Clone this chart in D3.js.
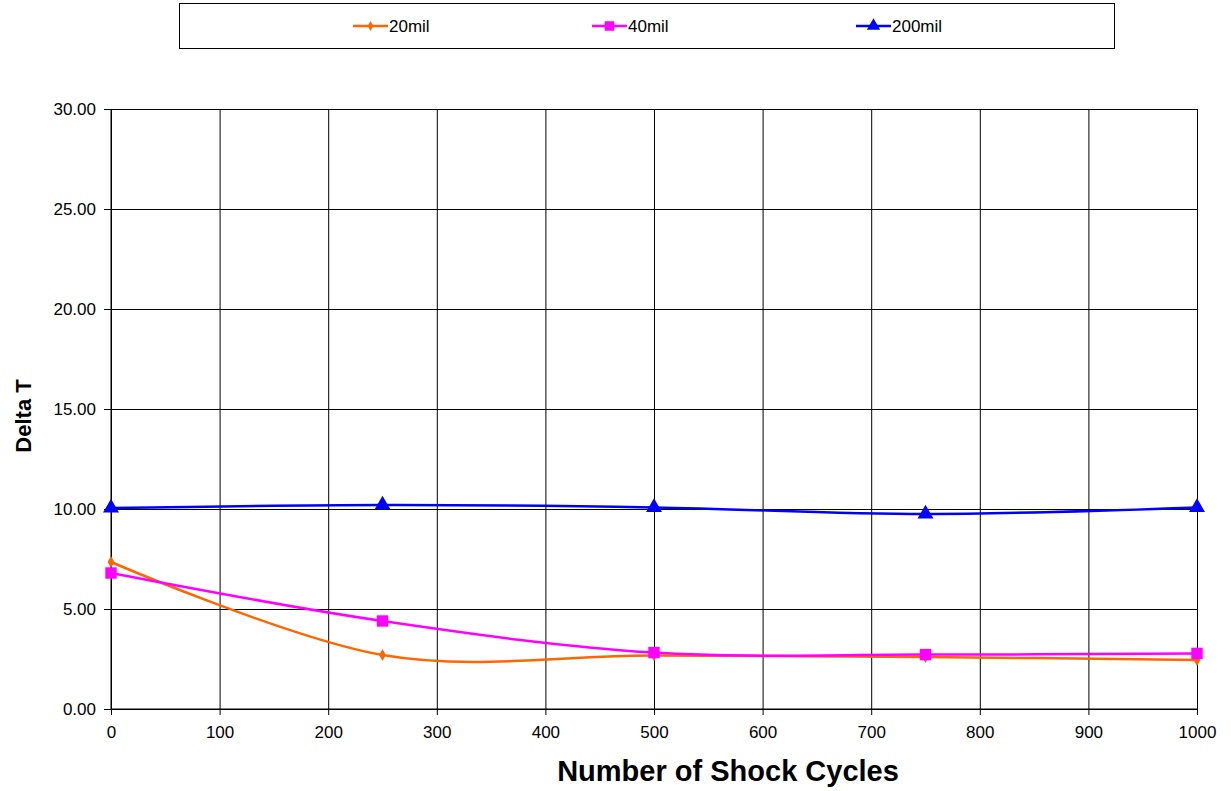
<!DOCTYPE html>
<html>
<head>
<meta charset="utf-8">
<script src="https://cdn.jsdelivr.net/npm/d3@7"></script>
<style>
  body { margin: 0; background: #fff; }
  text { font-family: "Liberation Sans", Arial, sans-serif; }
</style>
</head>
<body>
<div id="chart"></div>
<script>
var width = 1231;
var height = 791;

// data
var cycles = [0, 250, 500, 750, 1000];
var mil20 = [7.35, 2.70, 2.68, 2.60, 2.45];
var mil40 = [6.80, 4.40, 2.82, 2.72, 2.78];
var mil200 = [10.05, 10.20, 10.08, 9.75, 10.08];
var seriesNames = ['20mil', '40mil', '200mil'];
var xTicks = [0, 100, 200, 300, 400, 500, 600, 700, 800, 900, 1000];
var yTicks = [0, 5, 10, 15, 20, 25, 30];

var plotLeft = 111, plotRight = 1197, plotTop = 109, plotBottom = 709;

var svg = d3.select('#chart')
  .append('svg')
  .attr('width', width)
  .attr('height', height)
  .style('background-color', '#fff');

var x = d3.scaleLinear().domain([0, 1000]).range([plotLeft, plotRight]);
var y = d3.scaleLinear().domain([0, 30]).range([plotBottom, plotTop]);

// grid
svg.append('g')
  .attr('transform', 'translate(0,' + plotBottom + ')')
  .call(d3.axisBottom(x).tickValues(xTicks).tickSize(-(plotBottom - plotTop)).tickFormat(''))
  .call(function(g) { g.select('.domain').remove(); })
  .selectAll('line').attr('stroke', '#000').attr('stroke-width', 1);

svg.append('g')
  .attr('transform', 'translate(' + plotLeft + ',0)')
  .call(d3.axisLeft(y).tickValues(yTicks).tickSize(-(plotRight - plotLeft)).tickFormat(''))
  .call(function(g) { g.select('.domain').remove(); })
  .selectAll('line').attr('stroke', '#000').attr('stroke-width', 1);

// axes
var xAxis = svg.append('g')
  .attr('transform', 'translate(0,' + plotBottom + ')')
  .call(d3.axisBottom(x).tickValues(xTicks).tickSize(6).tickPadding(11).tickFormat(d3.format('d')));
xAxis.select('.domain').attr('stroke', '#000').attr('d', 'M' + plotLeft + ',0H' + plotRight);
xAxis.selectAll('text').style('font-size', '17px').style('font-family', 'Liberation Sans, Arial, sans-serif').attr('fill', '#000');

var yAxis = svg.append('g')
  .attr('transform', 'translate(' + plotLeft + ',0)')
  .call(d3.axisLeft(y).tickValues(yTicks).tickSize(7).tickPadding(8).tickFormat(d3.format('.2f')));
yAxis.select('.domain').attr('stroke', '#000').attr('d', 'M0,' + plotTop + 'V' + plotBottom);
yAxis.selectAll('text').style('font-size', '17px').style('font-family', 'Liberation Sans, Arial, sans-serif').attr('fill', '#000');

// titles
svg.append('text')
  .attr('x', 728)
  .attr('y', 781)
  .attr('text-anchor', 'middle')
  .text('Number of Shock Cycles')
  .style('font-size', '29px')
  .style('font-weight', '700');

svg.append('text')
  .attr('transform', 'translate(31,416) rotate(-90)')
  .attr('text-anchor', 'middle')
  .text('Delta T')
  .style('font-size', '22px')
  .style('font-weight', '700');

// series
var series = [
  { name: seriesNames[0], values: mil20, color: '#FF6600', symbol: d3.symbolDiamond, size: 40 },
  { name: seriesNames[1], values: mil40, color: '#FF00FF', symbol: d3.symbolSquare, size: 130 },
  { name: seriesNames[2], values: mil200, color: '#0000FF', symbol: d3.symbolTriangle, size: 110 }
];

var line = d3.line()
  .x(function(d, i) { return x(cycles[i]); })
  .y(function(d) { return y(d); })
  .curve(d3.curveCardinal.tension(0));

series.forEach(function(s) {
  svg.append('path')
    .datum(s.values)
    .attr('fill', 'none')
    .attr('stroke', s.color)
    .attr('stroke-width', 2.5)
    .attr('d', line);

  svg.selectAll(null)
    .data(s.values)
    .enter()
    .append('path')
    .attr('transform', function(d, i) { return 'translate(' + x(cycles[i]) + ',' + y(d) + ')'; })
    .attr('d', d3.symbol().type(s.symbol).size(s.size))
    .attr('fill', s.color);
});

// legend
svg.append('rect')
  .attr('x', 179.5).attr('y', 3.5)
  .attr('width', 935).attr('height', 45)
  .attr('fill', '#fff').attr('stroke', '#000');

var legendX = [353, 592, 856];
series.forEach(function(s, i) {
  var g = svg.append('g').attr('transform', 'translate(' + legendX[i] + ',26)');
  g.append('line').attr('x1', 0).attr('x2', 35).attr('y1', 0).attr('y2', 0)
    .attr('stroke', s.color).attr('stroke-width', 2.5);
  g.append('path').attr('transform', 'translate(17.5,0)')
    .attr('d', d3.symbol().type(s.symbol).size(s.size * 0.7))
    .attr('fill', s.color);
  g.append('text').attr('x', 36).attr('y', 6)
    .text(s.name)
    .style('font-size', '17px');
});
</script>
</body>
</html>
